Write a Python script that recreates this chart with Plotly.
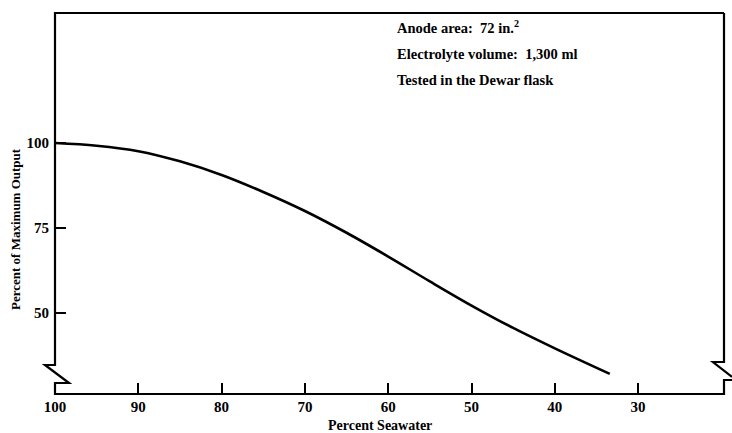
import plotly.graph_objects as go

# Data
seawater_pct = [100, 95, 90, 85, 80, 75, 70, 65, 60, 55, 50, 45, 40, 33.4]
output_pct = [100, 99.2, 97.6, 94.6, 90.6, 85.6, 80.0, 73.6, 66.6, 59.3, 52.2, 45.6, 39.6, 32.1]
x_ticks = [100, 90, 80, 70, 60, 50, 40, 30]
y_ticks = [50, 75, 100]
notes = ["Anode area:  72 in.<sup>2</sup>", "Electrolyte volume:  1,300 ml", "Tested in the Dewar flask"]

W, H = 732, 433
L, R, T, B = 55, 724, 13, 394  # plot area in pixels


def px(x):
    return (x - L) / (R - L)


def py(y):
    return (B - y) / (B - T)


FONT = "Liberation Serif"

fig = go.Figure()
fig.add_trace(go.Scatter(x=seawater_pct, y=output_pct, mode="lines",
                         line=dict(color="black", width=2.6, shape="spline", smoothing=1.0),
                         showlegend=False, hoverinfo="skip"))

# frame with axis-break marks
def path(points):
    s = "M " + " L ".join(f"{px(a):.5f},{py(b):.5f}" for a, b in points)
    return s

frame_left = [(R, T), (L, T), (L, 365), (45, 365), (69, 383), (L, 383), (L, B), (R, B), (R, 380), (732, 380)]
frame_right = [(R, T), (R, 362), (713, 362), (732, 377)]
for pts in (frame_left, frame_right):
    fig.add_shape(type="path", path=path(pts), xref="paper", yref="paper",
                  line=dict(color="black", width=2.2))

fig.update_xaxes(range=[100, 100 - (R - L) / 8.33], tickvals=x_ticks, ticktext=[str(v) for v in x_ticks],
                 ticks="inside", ticklen=11, tickwidth=2, tickcolor="black",
                 showgrid=False, zeroline=False, showline=False, ticklabelstandoff=2,
                 tickfont=dict(family=FONT, size=15, color="black", weight="bold"))
fig.update_yaxes(range=[50 - (B - 313) / 3.4, 100 + (143 - T) / 3.4], tickvals=y_ticks,
                 ticktext=[str(v) for v in y_ticks],
                 ticks="inside", ticklen=11, tickwidth=2, tickcolor="black",
                 showgrid=False, zeroline=False, showline=False, ticklabelstandoff=5,
                 tickfont=dict(family=FONT, size=15, color="black", weight="bold"))

ann = []
ann.append(dict(text="Percent Seawater", x=px(380), y=py(425), xref="paper", yref="paper",
                showarrow=False, font=dict(family=FONT, size=14, color="black", weight="bold"),
                xanchor="center", yanchor="middle"))
ann.append(dict(text="Percent of Maximum Output", x=px(15), y=py(229), xref="paper", yref="paper",
                showarrow=False, textangle=-90, font=dict(family=FONT, size=13, color="black", weight="bold"),
                xanchor="center", yanchor="middle"))
for i, t in enumerate(notes):
    ann.append(dict(text=t, x=px(395), y=py(27 + 26.5 * i), xref="paper", yref="paper",
                    showarrow=False, font=dict(family=FONT, size=14.5, color="black", weight="bold"),
                    xanchor="left", yanchor="middle"))

fig.update_layout(width=W, height=H, margin=dict(l=L, r=W - R, t=T, b=H - B),
                  plot_bgcolor="white", paper_bgcolor="white", annotations=ann)
fig.write_html("out.html")
